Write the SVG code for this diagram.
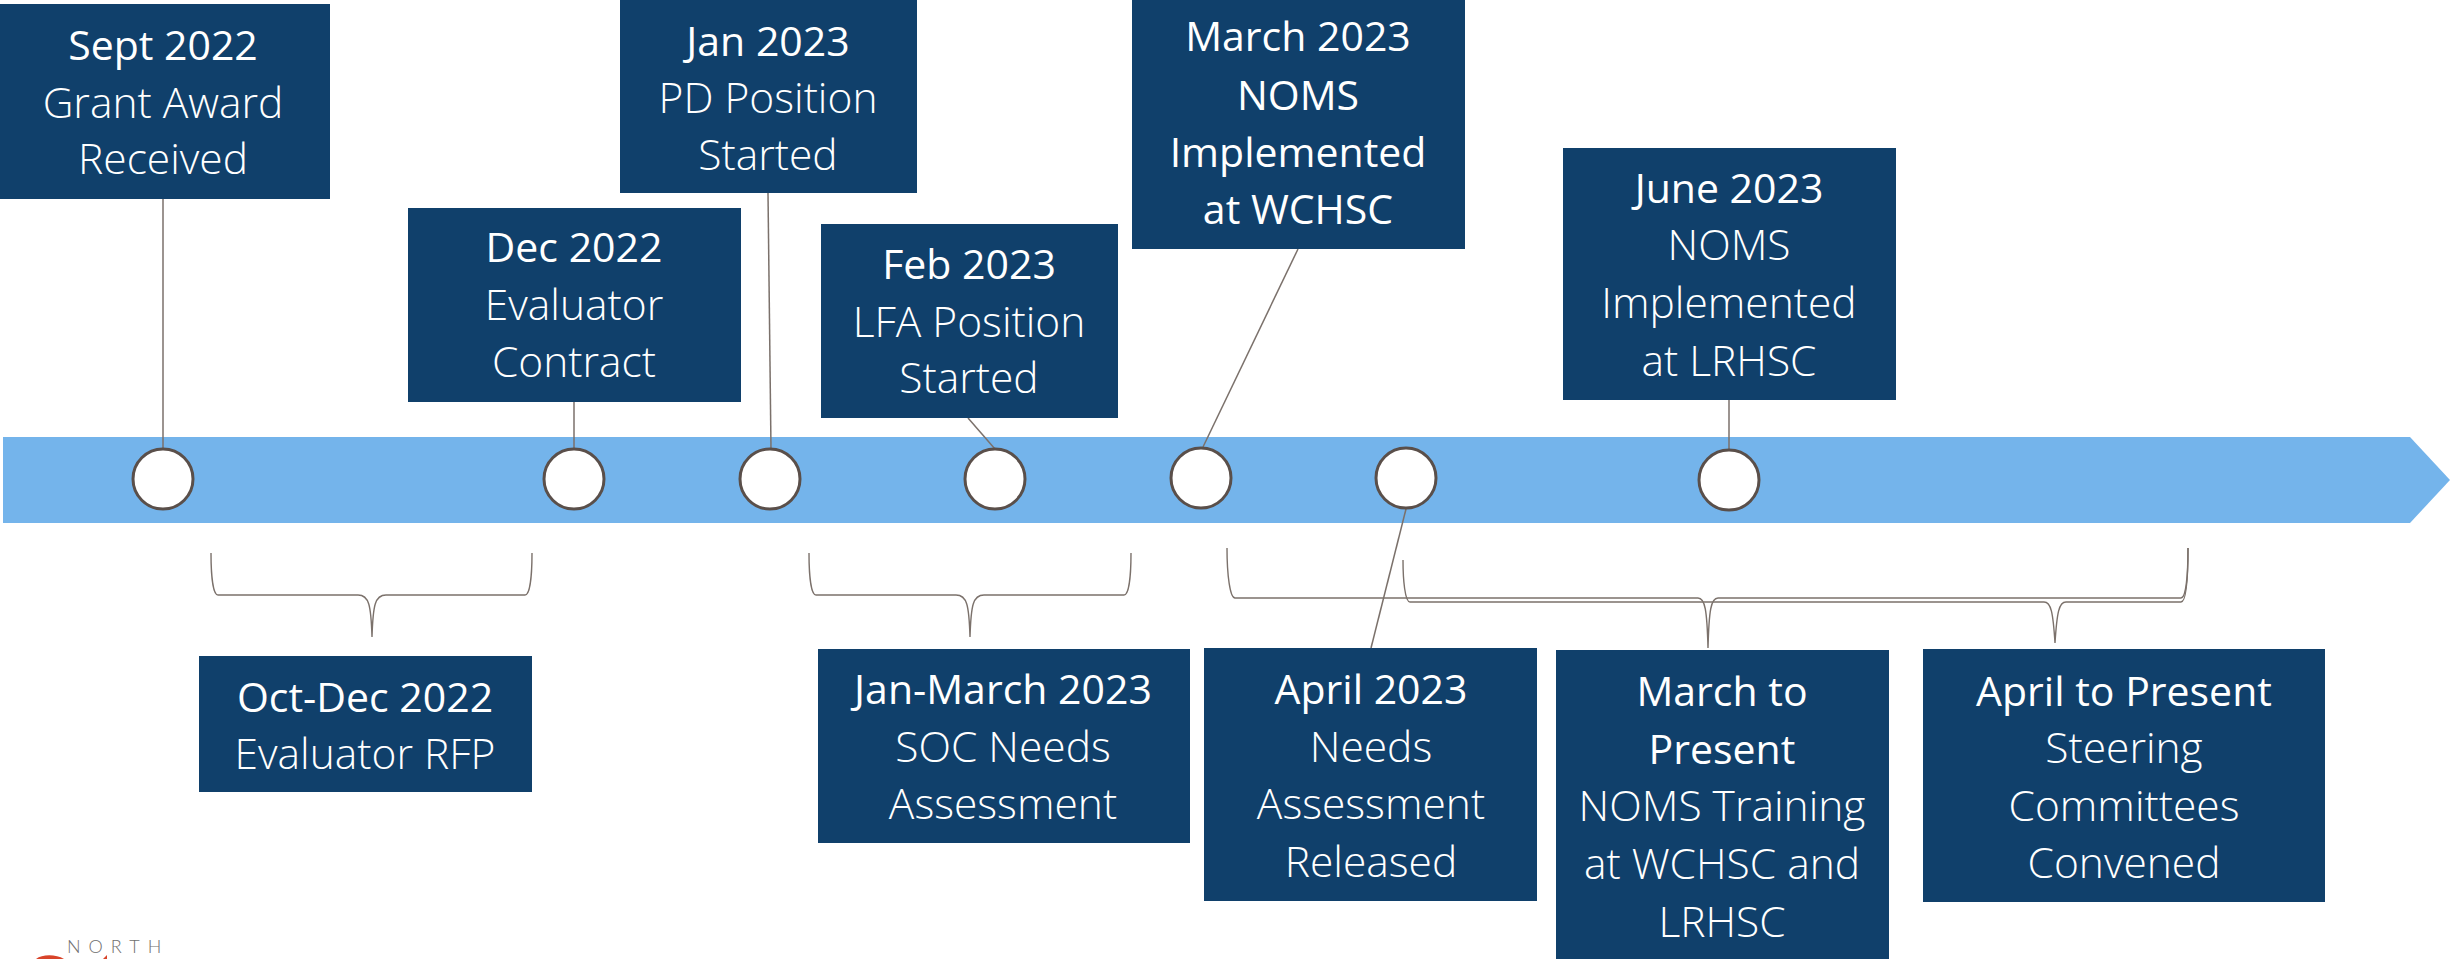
<svg xmlns="http://www.w3.org/2000/svg" width="2450" height="959" viewBox="0 0 2450 959">
<style>
.box{fill:#10406b}
.t{font-family:"Open Sans","Liberation Sans",sans-serif;fill:#fff;text-anchor:middle;transform:translateY(1px)}
.h{font-weight:400;font-size:41px}
.l{font-weight:300;font-size:42.5px}
.c{fill:none;stroke:#7b716b;stroke-width:1.5}
.b{fill:none;stroke:#7b716b;stroke-width:1.4}
.dot{fill:#fff;stroke:#5a4f4a;stroke-width:3}
</style>
<rect width="2450" height="959" fill="#fff"/>
<path id="timeline-bar" d="M3 437H2410L2450 480L2410 523H3Z" fill="#74b4eb"/>
<g id="connectors">
<path class="c" d="M163 199V449"/>
<path class="c" d="M574 401V449"/>
<path class="c" d="M768 193L771 449"/>
<path class="c" d="M968 418L995 449"/>
<path class="c" d="M1298 249L1203 447"/>
<path class="c" d="M1729 400V449"/>
<path class="c" d="M1406 509L1371 648"/>
<path class="b" d="M211 553C211 575 213 595 218 595H358C369 595 371 605 372 637C373 605 375 595 386 595H525C530 595 532 575 532 553"/>
<path class="b" d="M809 553C809 575 811 595 816 595H956C967 595 969 605 970 637C971 605 973 595 984 595H1124C1129 595 1131 575 1131 553"/>
<path class="b" d="M1227 548C1227 575 1230 598 1235 598H1698C1705 598 1707 610 1708 648C1709 610 1711 598 1718 598H2181C2186 598 2188 575 2188 548"/>
<path class="b" d="M1403 560C1403 580 1405 602 1410 602H2044C2051 602 2053 612 2055 643C2057 612 2059 602 2066 602H2181C2186 602 2188 580 2188 548"/>
</g>
<g id="dots">
<ellipse class="dot" cx="163" cy="479" rx="30" ry="30"/>
<ellipse class="dot" cx="574" cy="479" rx="30" ry="30"/>
<ellipse class="dot" cx="770" cy="479" rx="30" ry="30"/>
<ellipse class="dot" cx="995" cy="479" rx="30" ry="30"/>
<ellipse class="dot" cx="1201" cy="478" rx="30" ry="30"/>
<ellipse class="dot" cx="1406" cy="478" rx="30" ry="30"/>
<ellipse class="dot" cx="1729" cy="480" rx="30" ry="30"/>
</g>
<g id="n-sept"><rect class="box" x="0" y="4" width="330" height="195"/><text class="t h" x="163" y="59">Sept 2022</text><text class="t l" x="163" y="117">Grant Award</text><text class="t l" x="163" y="173">Received</text></g>
<g id="n-dec"><rect class="box" x="408" y="208" width="333" height="194"/><text class="t h" x="574" y="261">Dec 2022</text><text class="t l" x="574" y="319">Evaluator</text><text class="t l" x="574" y="376">Contract</text></g>
<g id="n-jan"><rect class="box" x="620" y="0" width="297" height="193"/><text class="t h" x="768" y="55">Jan 2023</text><text class="t l" x="768" y="112">PD Position</text><text class="t l" x="768" y="169">Started</text></g>
<g id="n-feb"><rect class="box" x="821" y="224" width="297" height="194"/><text class="t h" x="969" y="278">Feb 2023</text><text class="t l" x="969" y="336">LFA Position</text><text class="t l" x="969" y="392">Started</text></g>
<g id="n-march"><rect class="box" x="1132" y="0" width="333" height="249"/><text class="t h" x="1298" y="50">March 2023</text><text class="t h" x="1298" y="109">NOMS</text><text class="t h" x="1298" y="166">Implemented</text><text class="t h" x="1298" y="223">at WCHSC</text></g>
<g id="n-june"><rect class="box" x="1563" y="148" width="333" height="252"/><text class="t h" x="1729" y="202">June 2023</text><text class="t l" x="1729" y="259">NOMS</text><text class="t l" x="1729" y="317">Implemented</text><text class="t l" x="1729" y="375">at LRHSC</text></g>
<g id="n-oct"><rect class="box" x="199" y="656" width="333" height="136"/><text class="t h" x="365" y="711">Oct-Dec 2022</text><text class="t l" x="365" y="768">Evaluator RFP</text></g>
<g id="n-janmar"><rect class="box" x="818" y="649" width="372" height="194"/><text class="t h" x="1003" y="703">Jan-March 2023</text><text class="t l" x="1003" y="761">SOC Needs</text><text class="t l" x="1003" y="818">Assessment</text></g>
<g id="n-april"><rect class="box" x="1204" y="648" width="333" height="253"/><text class="t h" x="1371" y="703">April 2023</text><text class="t l" x="1371" y="761">Needs</text><text class="t l" x="1371" y="818">Assessment</text><text class="t l" x="1371" y="876">Released</text></g>
<g id="n-marchto"><rect class="box" x="1556" y="650" width="333" height="309"/><text class="t h" x="1722" y="705">March to</text><text class="t h" x="1722" y="763">Present</text><text class="t l" x="1722" y="820">NOMS Training</text><text class="t l" x="1722" y="878">at WCHSC and</text><text class="t l" x="1722" y="936">LRHSC</text></g>
<g id="n-aprilto"><rect class="box" x="1923" y="649" width="402" height="253"/><text class="t h" x="2124" y="705">April to Present</text><text class="t l" x="2124" y="762">Steering</text><text class="t l" x="2124" y="820">Committees</text><text class="t l" x="2124" y="877">Convened</text></g>
<g id="logo"><text x="67" y="953" font-family="Lato,'Liberation Sans',sans-serif" font-size="18" font-weight="300" letter-spacing="8" fill="#6f6f6f">NORTH</text><path d="M36 959C42 954 56 954 64 959Z" fill="#d8442a"/><path d="M103 959L107 955V959Z" fill="#d8442a"/></g>
</svg>
